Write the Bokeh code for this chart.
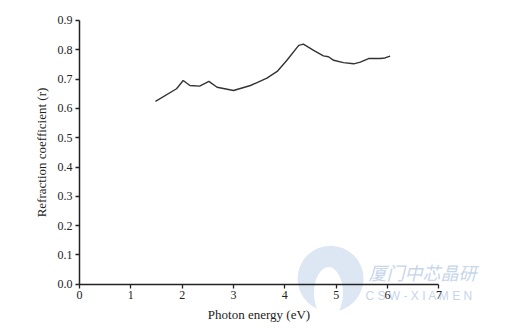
from bokeh.plotting import figure
from bokeh.models import FixedTicker, NumeralTickFormatter, Range1d, Label
from bokeh.embed import file_html
from bokeh.resources import INLINE

# Data
photon_energy = [1.48, 1.89, 2.02, 2.15, 2.34, 2.52, 2.68, 3.00, 3.33, 3.65, 3.85, 4.04,
                 4.27, 4.36, 4.56, 4.75, 4.85, 4.95, 5.14, 5.34, 5.47, 5.63, 5.86, 5.95, 6.05]
refraction = [0.624, 0.667, 0.695, 0.678, 0.676, 0.692, 0.672, 0.661, 0.678, 0.703, 0.726, 0.764,
              0.815, 0.819, 0.798, 0.779, 0.776, 0.764, 0.756, 0.752, 0.758, 0.770, 0.770, 0.772, 0.778]
x_ticks = [0, 1, 2, 3, 4, 5, 6, 7]
y_ticks = [0.0, 0.1, 0.2, 0.3, 0.4, 0.5, 0.6, 0.7, 0.8, 0.9]

FONT = "Liberation Serif"

p = figure(width=505, height=333, output_backend="svg", toolbar_location=None,
           x_range=Range1d(-1.539, 8.20), y_range=Range1d(-0.168, 0.968),
           min_border_left=0, min_border_right=5, min_border_top=0, min_border_bottom=0)
p.outline_line_color = None
p.xgrid.visible = False
p.ygrid.visible = False

# watermark (decorative)
p.circle(x=[4.89], y=[0.019], radius=33, radius_units="screen",
         fill_color="#dde7f3", line_color=None, level="underlay")
p.ellipse(x=[4.85], y=[-0.03], width=29, height=52, width_units="screen", height_units="screen",
          fill_color="white", line_color=None, level="underlay")
p.add_layout(Label(x=5.63, y=-0.004, text="厦门中芯晶研", text_font="Noto Sans CJK SC",
                   text_font_size="18px", text_font_style="italic", text_color="#c7d6ea",
                   text_baseline="bottom", level="underlay"))
p.add_layout(Label(x=5.57, y=-0.015, text="C S W - X I A M E N", text_font="Liberation Sans",
                   text_font_size="12px", text_color="#c7d6ea", text_baseline="top",
                   level="underlay"))

p.line(photon_energy, refraction, line_color="#333333", line_width=1.4)

for ax in (p.xaxis[0], p.yaxis[0]):
    ax.axis_line_color = "#222222"
    ax.axis_line_width = 1.5
    ax.major_tick_line_color = "#222222"
    ax.major_tick_line_width = 1.3
    ax.major_tick_out = 4
    ax.major_tick_in = 0
    ax.minor_tick_line_color = None
    ax.major_label_text_font = FONT
    ax.major_label_text_font_size = "12px"
    ax.major_label_text_color = "#222222"
    ax.axis_label_text_font = FONT
    ax.axis_label_text_font_size = "13px"
    ax.axis_label_text_font_style = "normal"
    ax.axis_label_text_color = "#222222"

p.xaxis.fixed_location = 0
p.yaxis.fixed_location = 0
p.xaxis.bounds = (0, 7)
p.yaxis.bounds = (0, 0.9)
p.xaxis.ticker = FixedTicker(ticks=x_ticks)
p.yaxis.ticker = FixedTicker(ticks=y_ticks)
p.yaxis.formatter = NumeralTickFormatter(format="0.0")
p.xaxis.axis_label = "Photon energy (eV)"
p.yaxis.axis_label = "Refraction coefficient (r)"
p.xaxis.major_label_standoff = 3
p.yaxis.major_label_standoff = 3
p.xaxis.axis_label_standoff = 4
p.yaxis.axis_label_standoff = 6

open("out.html", "w").write(file_html(p, INLINE))
